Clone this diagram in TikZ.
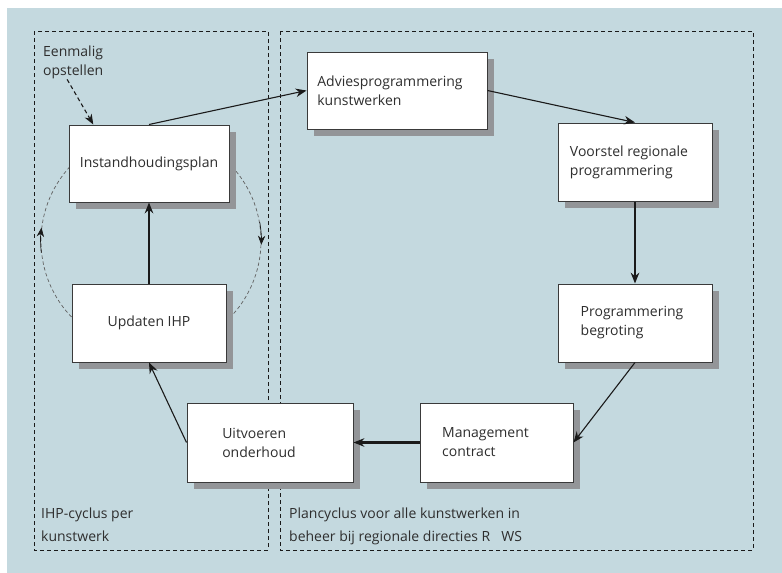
\documentclass[tikz,border=0pt]{standalone}
\usepackage{fontspec}
\setmainfont{Open Sans}
\usetikzlibrary{arrows.meta, positioning, shadows}
\definecolor{ihpBlue}{HTML}{C4D9DF}
\definecolor{ihpShadow}{HTML}{939598}
\definecolor{ihpEdge}{HTML}{3A3A3A}
\definecolor{ihpText}{HTML}{2E2E2E}
\definecolor{ihpLine}{HTML}{1A1A1A}
\tikzset{
  arrowThin/.style={-{Stealth[length=3.8mm, width=3mm]}, ihpLine, line width=1.1pt},
  arrowThick/.style={-{Stealth[length=3.8mm, width=3mm]}, ihpLine, line width=2.2pt},
  arrowDash/.style={-{Stealth[length=3.6mm, width=2.8mm]}, ihpLine, line width=1.1pt,
                    dash pattern=on 4pt off 3pt},
  ringDash/.style={ihpEdge!80, line width=0.7pt, dash pattern=on 3.5pt off 2.5pt},
  frameDash/.style={ihpLine, line width=1pt, dash pattern=on 4pt off 3pt},
  boxW/.style={rectangle, draw=ihpEdge, line width=1pt, fill=white, text=ihpText,
               align=left, font=\fontsize{14}{19}\selectfont,
               minimum width=154pt, minimum height=78pt,
               general shadow={fill=ihpShadow, shadow xshift=7pt, shadow yshift=-7pt}},
  labelT/.style={text=ihpText, align=left, inner sep=0pt,
                 font=\fontsize{14}{23}\selectfont},
}
\begin{document}
\begin{tikzpicture}[x=1pt, y=-1pt]
    \useasboundingbox (0,0) rectangle (782,573);
    \fill[ihpBlue] (7,8) rectangle (790,580);
    \draw[frameDash] (34,31) rectangle (268,550);
    \draw[frameDash] (280,31) rectangle (753,550);

    \node[circle, draw, ringDash, minimum size=220pt, inner sep=0pt] (ring) at (151,241) {};
    \draw[ringDash, -{Stealth[length=3.2mm, width=2.6mm]}, solid, ihpLine]
      (ring.186) arc[start angle=186, end angle=173, radius=110pt];
    \draw[ringDash, -{Stealth[length=3.2mm, width=2.6mm]}, solid, ihpLine]
      (ring.10) arc[start angle=10, end angle=-2, radius=110pt];

    \node[boxW, minimum width=160pt, minimum height=77pt] (plan) at (149,163.5) {Instandhoudingsplan};
    \node[boxW] (update) at (149,323) {Updaten IHP};
    \node[boxW, minimum width=180pt, minimum height=77pt] (advies) at (397,90.5)
      {\hspace*{-14pt}Adviesprogrammering\\\hspace*{-14pt}kunstwerken};
    \node[boxW] (voorstel) at (635,162) {\hspace*{-12pt}Voorstel regionale\\\hspace*{-12pt}programmering};
    \node[boxW] (begroting) at (635,323) {\hspace*{-6pt}Programmering\\\hspace*{-6pt}begroting};
    \node[boxW, minimum width=153pt, minimum height=79pt] (contract) at (496.5,442.5)
      {\hspace*{-22pt}Management\\\hspace*{-22pt}contract};
    \node[boxW, minimum width=166pt, minimum height=79pt] (uitvoeren) at (270,442.5)
      {\hspace*{-22pt}Uitvoeren\\\hspace*{-22pt}onderhoud};

    \node[labelT, font=\fontsize{14}{19}\selectfont, anchor=north west] (eenmalig) at (43,46)
      {Eenmalig\\opstellen};
    \node[labelT, anchor=north west] (ihpcyclus) at (41,508) {IHP-cyclus per\\kunstwerk};
    \node[labelT, anchor=north west] (plancyclus) at (289,508)
      {Plancyclus voor alle kunstwerken in\\beheer bij regionale directies R\hspace{11pt}WS};

    \draw[arrowDash] (eenmalig.250) -- (plan.145);
    \draw[arrowThin] (plan.north) -- (advies.west);
    \draw[arrowThin] (advies.east) -- (voorstel.north);
    \draw[arrowThick] (voorstel.south) -- (begroting.north);
    \draw[arrowThin] (begroting.south) -- (contract.east);
    \draw[arrowThick] (contract.west) -- (uitvoeren.east);
    \draw[arrowThin] (uitvoeren.west) -- (update.south);
    \draw[arrowThick] (update.north) -- (plan.south);
  \end{tikzpicture}
\end{document}
